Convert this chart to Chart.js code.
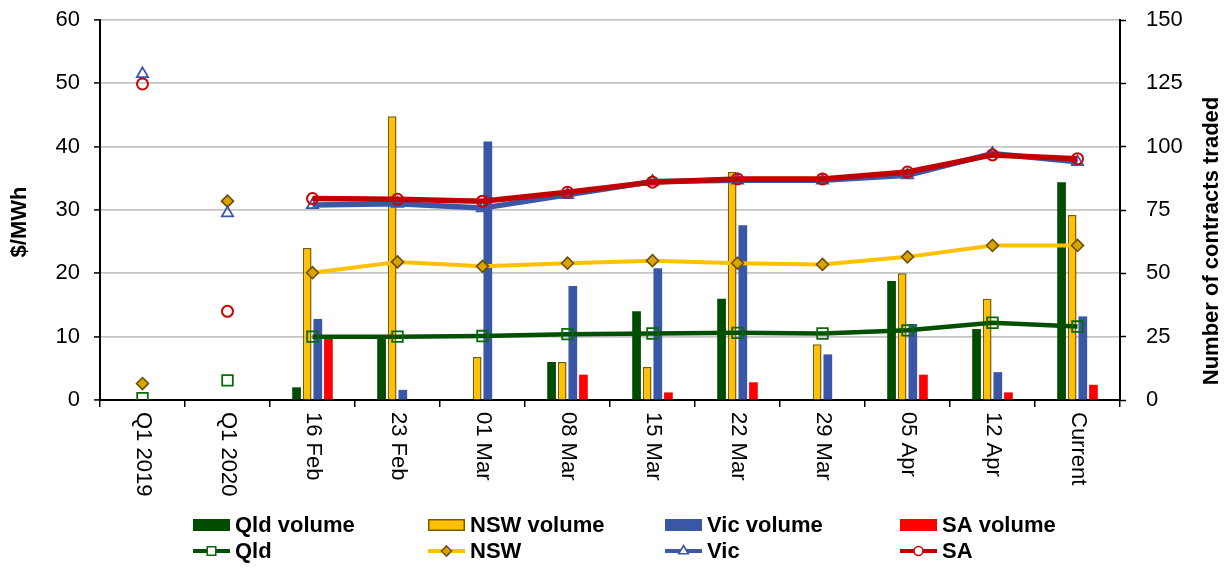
<!DOCTYPE html>
<html>
<head>
<meta charset="utf-8">
<script src="https://cdn.jsdelivr.net/npm/chart.js@4.4.1/dist/chart.umd.min.js"></script>
<style>
html,body{margin:0;padding:0;background:#fff;}
#wrap{width:1231px;height:568px;position:relative;}
canvas{display:block;}
</style>
</head>
<body>
<div id="wrap"><canvas id="c" width="1231" height="568"></canvas></div>
<script>
// ---- data ----
const categories = ['Q1 2019','Q1 2020','16 Feb','23 Feb','01 Mar','08 Mar','15 Mar','22 Mar','29 Mar','05 Apr','12 Apr','Current'];

// contracts traded (right axis)
const qldVolume = [null, null, 5, 25, null, 15, 35, 40, null, 47, 28, 86];
const nswVolume = [null, null, 60, 112, 17, 15, 13, 90, 22, 50, 40, 73];
const vicVolume = [null, null, 32, 4, 102, 45, 52, 69, 18, 30, 11, 33];
const saVolume  = [null, null, 25, null, null, 10, 3, 7, null, 10, 3, 6];

// prices $/MWh (left axis)
const qldPrice = [0.3, 3.1, 10.0, 10.0, 10.1, 10.4, 10.5, 10.6, 10.5, 11.0, 12.2, 11.6];
const nswPrice = [2.6, 31.4, 20.1, 21.8, 21.1, 21.6, 22.0, 21.6, 21.4, 22.6, 24.4, 24.4];
const vicPrice = [51.5, 29.5, 30.8, 31.0, 30.3, 32.4, 34.5, 34.7, 34.7, 35.5, 38.9, 37.6];
const saPrice  = [49.9, 14.0, 31.8, 31.7, 31.4, 32.8, 34.4, 34.9, 34.9, 36.0, 38.7, 38.1];

const leftTicks = [0, 60, 10];
const rightTicks = [0, 150, 25];

const FONT = "'Liberation Sans', Arial, Helvetica, sans-serif";

const C = {
  qldBar: '#004D00', nswBar: '#FFC000', nswBarBorder: '#7A5C00', vicBar: '#3A56A6', saBar: '#FF0000',
  qldLine: '#005000', nswLine: '#FFC000', vicLine: '#3B57A8', saLine: '#C00000',
  nswMarkFill: '#D9A300', nswMarkBorder: '#6B5000', qldMark: '#0A6A0A', vicMark: '#3B57A8', saMark: '#D00000'
};

// hide connecting segments for the two isolated quarterly points
const hideFirst = ctx => (ctx.p0DataIndex < 2 ? 'rgba(0,0,0,0)' : undefined);

const datasets = [
  { type:'line', label:'SA', data: saPrice, yAxisID:'y', order:1,
    borderColor:C.saLine, borderWidth:5.5, tension:0,
    pointStyle:'circle', pointRadius:5.5, pointBorderColor:C.saMark, pointBorderWidth:2,
    pointBackgroundColor:'rgba(0,0,0,0)', segment:{borderColor:hideFirst} },
  { type:'line', label:'Vic', data: vicPrice, yAxisID:'y', order:2,
    borderColor:C.vicLine, borderWidth:5.5, tension:0,
    pointStyle:'triangle', pointRadius:6.5, pointBorderColor:C.vicMark, pointBorderWidth:1.8,
    pointBackgroundColor:'rgba(0,0,0,0)', segment:{borderColor:hideFirst} },
  { type:'line', label:'NSW', data: nswPrice, yAxisID:'y', order:3,
    borderColor:C.nswLine, borderWidth:4, tension:0,
    pointStyle:'rectRot', pointRadius:6, pointBorderColor:C.nswMarkBorder, pointBorderWidth:1.6,
    pointBackgroundColor:C.nswMarkFill, segment:{borderColor:hideFirst} },
  { type:'line', label:'Qld', data: qldPrice, yAxisID:'y', order:4,
    borderColor:C.qldLine, borderWidth:4.5, tension:0,
    pointStyle:'rect', pointRadius:7.5, pointBorderColor:C.qldMark, pointBorderWidth:1.8,
    pointBackgroundColor:'rgba(0,0,0,0)', segment:{borderColor:hideFirst} },
  { type:'bar', label:'Qld volume', data: qldVolume, yAxisID:'y1', order:10,
    backgroundColor:C.qldBar, borderWidth:0 },
  { type:'bar', label:'NSW volume', data: nswVolume, yAxisID:'y1', order:10,
    backgroundColor:C.nswBar, borderColor:C.nswBarBorder, borderWidth:1.5 },
  { type:'bar', label:'Vic volume', data: vicVolume, yAxisID:'y1', order:10,
    backgroundColor:C.vicBar, borderWidth:0 },
  { type:'bar', label:'SA volume', data: saVolume, yAxisID:'y1', order:10,
    backgroundColor:C.saBar, borderWidth:0 }
];

function drawMarker(ctx, style, x, y, r, fill, stroke, lw) {
  ctx.save();
  ctx.beginPath();
  if (style === 'rect') {
    const s = Math.SQRT1_2 * r;
    ctx.rect(x - s, y - s, 2 * s, 2 * s);
  } else if (style === 'rectRot') {
    ctx.moveTo(x, y - r); ctx.lineTo(x + r, y); ctx.lineTo(x, y + r); ctx.lineTo(x - r, y); ctx.closePath();
  } else if (style === 'triangle') {
    ctx.moveTo(x, y - r); ctx.lineTo(x + r * 0.866, y + r * 0.5); ctx.lineTo(x - r * 0.866, y + r * 0.5); ctx.closePath();
  } else {
    ctx.arc(x, y, r, 0, Math.PI * 2);
  }
  if (fill) { ctx.fillStyle = fill; ctx.fill(); }
  ctx.lineWidth = lw; ctx.strokeStyle = stroke; ctx.stroke();
  ctx.restore();
}

const legendItems = [
  { text:'Qld volume', kind:'bar', fill:C.qldBar },
  { text:'NSW volume', kind:'bar', fill:C.nswBar, border:C.nswBarBorder },
  { text:'Vic volume', kind:'bar', fill:C.vicBar },
  { text:'SA volume', kind:'bar', fill:C.saBar },
  { text:'Qld', kind:'line', color:C.qldLine, mark:'rect', mr:6, mfill:'#ffffff', mstroke:C.qldMark, lw:4 },
  { text:'NSW', kind:'line', color:C.nswLine, mark:'rectRot', mr:5, mfill:C.nswMarkFill, mstroke:C.nswMarkBorder, lw:4 },
  { text:'Vic', kind:'line', color:C.vicLine, mark:'triangle', mr:5.5, mfill:'#ffffff', mstroke:C.vicMark, lw:4 },
  { text:'SA', kind:'line', color:C.saLine, mark:'circle', mr:4.5, mfill:'#ffffff', mstroke:C.saMark, lw:4 }
];

const textPlugin = {
  id: 'textPlugin',
  afterDraw(chart) {
    const ctx = chart.ctx;
    const xs = chart.scales.x;
    const area = chart.chartArea;
    ctx.save();
    // rotated category labels (clockwise, reading downward)
    ctx.fillStyle = '#000';
    ctx.font = '22px ' + FONT;
    ctx.textAlign = 'left';
    ctx.textBaseline = 'middle';
    categories.forEach((lab, i) => {
      const x = xs.getPixelForValue(i);
      ctx.save();
      ctx.translate(x + 1, area.bottom + 12);
      ctx.rotate(Math.PI / 2);
      ctx.fillText(lab, 0, 0);
      ctx.restore();
    });
    // axis titles
    ctx.font = 'bold 22px ' + FONT;
    ctx.textAlign = 'center';
    ctx.save();
    ctx.translate(20, 222);
    ctx.rotate(-Math.PI / 2);
    ctx.fillText('$/MWh', 0, 0);
    ctx.restore();
    ctx.save();
    ctx.translate(1212, 241);
    ctx.rotate(-Math.PI / 2);
    ctx.fillText('Number of contracts traded', 0, 0);
    ctx.restore();
    // legend (2 rows x 4 columns)
    const colX = [193, 428, 665, 900];
    const rowY = [525, 551];
    ctx.font = 'bold 22px ' + FONT;
    ctx.textAlign = 'left';
    ctx.textBaseline = 'middle';
    legendItems.forEach((it, k) => {
      const x = colX[k % 4], y = rowY[Math.floor(k / 4)];
      const w = 37;
      if (it.kind === 'bar') {
        ctx.fillStyle = it.fill;
        ctx.fillRect(x, y - 6, w, 12);
        if (it.border) { ctx.lineWidth = 1.5; ctx.strokeStyle = it.border; ctx.strokeRect(x + 0.75, y - 5.25, w - 1.5, 10.5); }
      } else {
        ctx.beginPath(); ctx.moveTo(x, y); ctx.lineTo(x + w, y);
        ctx.lineWidth = it.lw; ctx.strokeStyle = it.color; ctx.lineCap = 'butt'; ctx.stroke();
        drawMarker(ctx, it.mark, x + w / 2, y, it.mr, it.mfill, it.mstroke, 1.6);
      }
      ctx.fillStyle = '#000';
      ctx.fillText(it.text, x + w + 5, y + 1);
    });
    ctx.restore();
  }
};

function fixVertical(width) {
  return function (s) { s.width = width; s.paddingTop = 0; s.paddingBottom = 0; };
}

new Chart(document.getElementById('c'), {
  type: 'bar',
  data: { labels: categories, datasets: datasets },
  options: {
    responsive: false,
    animation: false,
    devicePixelRatio: 1,
    layout: { padding: { top: 20, left: 0, right: 0, bottom: 0 } },
    plugins: { legend: { display: false }, tooltip: { enabled: false }, title: { display: false } },
    datasets: { bar: { categoryPercentage: 0.5, barPercentage: 0.82 } },
    scales: {
      x: {
        type: 'category', offset: true,
        grid: { display: true, offset: true, drawOnChartArea: false, drawTicks: true, tickLength: 7, color: '#000', lineWidth: 1.5, tickWidth: 1.5 },
        border: { display: true, color: '#000', width: 2 },
        ticks: { display: false },
        afterFit(s) { s.height = 168; s.paddingLeft = 0; s.paddingRight = 0; }
      },
      y: {
        position: 'left', min: leftTicks[0], max: leftTicks[1],
        ticks: { stepSize: leftTicks[2], color: '#000', font: { size: 22, family: FONT }, padding: 14 },
        grid: { color: '#C4C4C4', lineWidth: 1.8, drawTicks: true, tickLength: 6, tickColor: '#000', tickWidth: 1.5 },
        border: { display: true, color: '#000', width: 2 },
        afterFit: fixVertical(100)
      },
      y1: {
        position: 'right', min: rightTicks[0], max: rightTicks[1],
        ticks: { stepSize: rightTicks[2], color: '#000', font: { size: 22, family: FONT }, padding: 20 },
        grid: { drawOnChartArea: false, drawTicks: true, tickLength: 6, tickColor: '#000', tickWidth: 1.5 },
        border: { display: true, color: '#000', width: 2 },
        afterFit: fixVertical(111)
      }
    }
  },
  plugins: [textPlugin]
});
</script>
</body>
</html>
